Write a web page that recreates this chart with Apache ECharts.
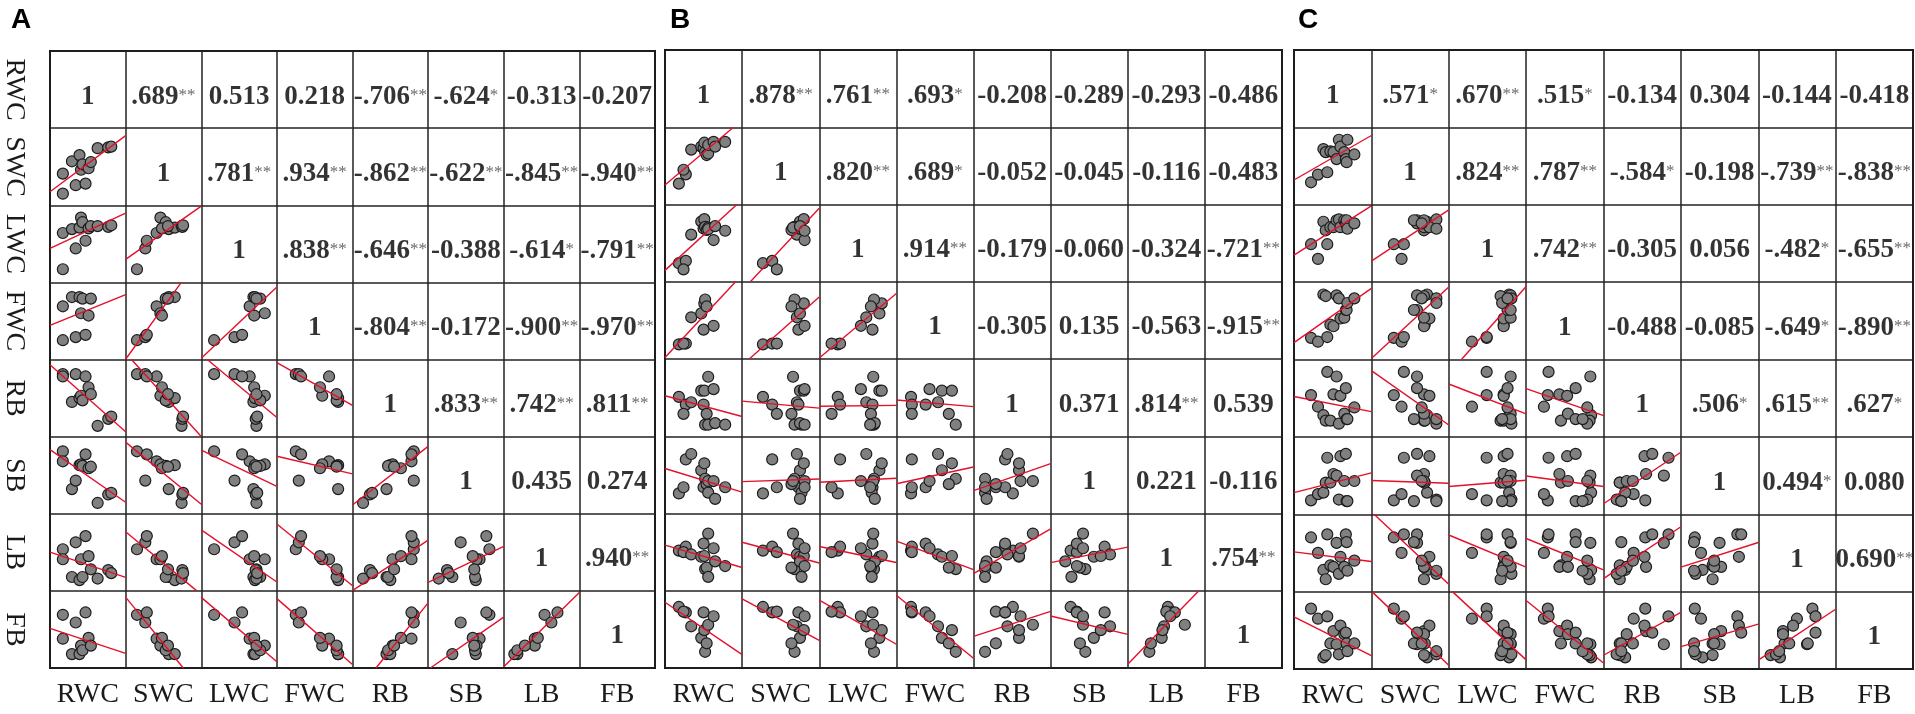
<!DOCTYPE html>
<html>
<head>
<meta charset="utf-8">
<script src="https://cdn.jsdelivr.net/npm/echarts@6/dist/echarts.min.js"></script>
<style>
html,body{margin:0;padding:0;background:#fff;}
#chart{width:1915px;height:714px;}
</style>
</head>
<body>
<div id="chart"></div>
<script>
// Variable names (columns / rows)
const VARS = ['RWC','SWC','LWC','FWC','RB','SB','LB','FB'];

// ---- Panel A samples (values as fraction of the cell range) ----
const RWC_A = [0.17,0.17,0.29,0.34,0.39,0.41,0.43,0.47,0.51,0.54,0.63,0.77,0.81];
const SWC_A = [0.15,0.41,0.57,0.26,0.65,0.46,0.53,0.28,0.48,0.56,0.74,0.75,0.76];
const LWC_A = [0.17,0.64,0.69,0.44,0.71,0.84,0.78,0.54,0.70,0.73,0.73,0.72,0.74];
const FWC_A = [0.25,0.69,0.81,0.29,0.81,0.60,0.79,0.32,0.57,0.79,null,null,null];
const RB_A  = [0.81,0.78,0.45,0.81,0.50,0.53,0.47,0.78,0.64,0.55,0.14,0.23,0.26];
const SB_A  = [0.81,0.68,0.32,0.43,0.63,0.64,0.62,0.77,0.59,0.61,0.14,0.25,0.27];
const LB_A  = [0.54,0.41,0.18,0.63,0.14,0.41,0.18,0.71,0.45,0.28,0.16,0.27,0.23];
const FB_A  = [0.69,0.38,0.18,0.59,0.18,0.29,0.23,0.72,0.39,0.29,null,null,null];

// ---- Panel B samples ----
const RWC_B = [0.18,0.27,0.24,0.34,0.47,0.50,0.51,0.52,0.54,0.56,0.56,0.63,0.65,0.78];
const SWC_B = [0.27,0.39,0.45,0.71,0.75,0.73,0.80,0.68,0.64,0.66,0.77,0.81,0.75,0.81];
const LWC_B = [0.24,0.27,0.16,0.61,0.78,0.69,0.81,0.71,0.67,0.70,0.68,0.54,0.72,0.66];
const FWC_B = [0.19,0.20,0.20,0.54,0.59,0.38,0.72,0.77,0.68,null,null,0.43,null,null];
const RB_B  = [0.51,0.41,0.29,0.44,0.59,0.41,0.59,0.15,0.29,0.77,0.15,0.61,0.17,0.15];
const SB_B  = [0.26,0.70,0.34,0.77,0.56,0.34,0.65,0.45,0.38,0.42,0.27,0.42,0.19,0.34];
const LB_B  = [0.52,0.57,0.50,0.47,0.44,0.61,0.45,0.28,0.30,0.74,0.18,0.55,0.38,0.32];
const FB_B  = [0.79,0.72,0.73,0.54,0.39,0.72,0.49,0.21,0.32,0.56,null,0.67,null,null];

// ---- Panel C samples ----
const RWC_C = [0.22,0.31,0.43,0.38,0.41,0.47,0.51,0.55,0.58,0.60,0.65,0.67,0.68,0.69,0.78];
const SWC_C = [0.29,0.39,0.42,0.72,0.68,0.69,0.68,0.59,0.84,0.75,0.68,0.59,0.55,0.84,0.65];
const LWC_C = [0.49,0.30,0.49,0.78,0.67,0.71,0.71,0.80,0.81,0.71,0.80,0.76,0.80,0.69,0.76];
const FWC_C = [0.28,0.23,0.29,0.84,0.82,0.45,0.43,0.83,0.79,0.53,0.54,0.64,0.64,0.73,0.79];
const RB_C  = [0.54,0.39,0.84,0.28,0.21,0.21,0.55,0.78,0.17,0.53,0.30,0.63,0.23,0.23,0.38];
const SB_C  = [0.18,0.26,0.73,0.28,0.41,0.41,0.52,0.50,0.19,0.75,0.43,0.78,0.17,0.17,0.43];
const LB_C  = [0.70,0.50,0.74,0.28,0.16,0.34,0.32,0.63,0.23,0.45,0.32,0.74,0.64,0.27,0.40];
const FB_C  = [0.78,0.65,0.68,0.15,0.18,0.33,0.49,0.32,0.19,0.56,0.45,0.47,0.33,0.23,0.33];

// ---- Correlation labels (upper triangle, row by row) ----
const CORR_A = [
  ['1','.689**','0.513','0.218','-.706**','-.624*','-0.313','-0.207'],
  ['1','.781**','.934**','-.862**','-.622**','-.845**','-.940**'],
  ['1','.838**','-.646**','-0.388','-.614*','-.791**'],
  ['1','-.804**','-0.172','-.900**','-.970**'],
  ['1','.833**','.742**','.811**'],
  ['1','0.435','0.274'],
  ['1','.940**'],
  ['1']
];
const CORR_B = [
  ['1','.878**','.761**','.693*','-0.208','-0.289','-0.293','-0.486'],
  ['1','.820**','.689*','-0.052','-0.045','-0.116','-0.483'],
  ['1','.914**','-0.179','-0.060','-0.324','-.721**'],
  ['1','-0.305','0.135','-0.563','-.915**'],
  ['1','0.371','.814**','0.539'],
  ['1','0.221','-0.116'],
  ['1','.754**'],
  ['1']
];
const CORR_C = [
  ['1','.571*','.670**','.515*','-0.134','0.304','-0.144','-0.418'],
  ['1','.824**','.787**','-.584*','-0.198','-.739**','-.838**'],
  ['1','.742**','-0.305','0.056','-.482*','-.655**'],
  ['1','-0.488','-0.085','-.649*','-.890**'],
  ['1','.506*','.615**','.627*'],
  ['1','0.494*','0.080'],
  ['1','0.690**'],
  ['1']
];

const panels = [
  { tag:'A', box:{left:37, top:51, width:618, height:617}, tagLeft:6,
    vals:[RWC_A,SWC_A,LWC_A,FWC_A,RB_A,SB_A,LB_A,FB_A], corr:CORR_A, rowLabels:true },
  { tag:'B', box:{left:665, top:50, width:617, height:618}, tagLeft:665,
    vals:[RWC_B,SWC_B,LWC_B,FWC_B,RB_B,SB_B,LB_B,FB_B], corr:CORR_B, rowLabels:false },
  { tag:'C', box:{left:1294, top:50, width:619, height:619}, tagLeft:1293,
    vals:[RWC_C,SWC_C,LWC_C,FWC_C,RB_C,SB_C,LB_C,FB_C], corr:CORR_C, rowLabels:false }
];

const N = VARS.length;
const SERIF = '"Liberation Serif","Times New Roman",serif';

function fitLine(xs, ys) {
  const px = [], py = [];
  for (let k = 0; k < xs.length; k++) {
    if (xs[k] != null && ys[k] != null) { px.push(xs[k]); py.push(ys[k]); }
  }
  const n = px.length;
  const mx = px.reduce((s,v)=>s+v,0)/n, my = py.reduce((s,v)=>s+v,0)/n;
  let sxy = 0, sxx = 0;
  for (let k = 0; k < n; k++) { sxy += (px[k]-mx)*(py[k]-my); sxx += (px[k]-mx)*(px[k]-mx); }
  const b = sxx ? sxy/sxx : 0;
  return { a: my - b*mx, b: b };
}
function clipUnit(a, b) {
  let x0 = 0, x1 = 1;
  if (b !== 0) {
    const xa = (0 - a)/b, xb = (1 - a)/b;
    x0 = Math.max(0, Math.min(xa, xb));
    x1 = Math.min(1, Math.max(xa, xb));
  } else if (a < 0 || a > 1) return null;
  if (x1 <= x0) return null;
  return [[x0, a + b*x0], [x1, a + b*x1]];
}

const grids = [], xAxes = [], yAxes = [], series = [], titles = [];

panels.forEach((p, pi) => {
  grids.push(Object.assign({ show:true, borderColor:'#111', borderWidth:2, backgroundColor:'#fff' }, p.box));
  titles.push({ text:p.tag, left:p.tagLeft, top:1,
    textStyle:{ fontFamily:'"Liberation Sans",Arial,sans-serif', fontWeight:'bold', fontSize:28, color:'#000' } });

  const xv = xAxes.length;
  xAxes.push({ type:'value', gridIndex:pi, min:0, max:N, interval:1,
    axisLine:{show:false}, axisTick:{show:false}, axisLabel:{show:false},
    splitLine:{show:true, lineStyle:{color:'#222', width:1.5}} });
  xAxes.push({ type:'category', gridIndex:pi, position:'bottom', data:VARS,
    axisLine:{show:false}, axisTick:{show:false}, splitLine:{show:false},
    axisLabel:{ interval:0, fontFamily:SERIF, fontSize:28, color:'#1a1a1a', margin:13 } });
  const yv = yAxes.length;
  yAxes.push({ type:'value', gridIndex:pi, min:0, max:N, interval:1,
    axisLine:{show:false}, axisTick:{show:false}, axisLabel:{show:false},
    splitLine:{show:true, lineStyle:{color:'#222', width:1.5}} });
  if (p.rowLabels) {
    yAxes.push({ type:'category', gridIndex:pi, position:'left', inverse:true, data:VARS,
      axisLine:{show:false}, axisTick:{show:false}, splitLine:{show:false},
      axisLabel:{ interval:0, fontFamily:SERIF, fontSize:28, color:'#1a1a1a', rotate:-90, margin:22 } });
  }

  // correlation text cells
  const txt = [];
  p.corr.forEach((row, i) => {
    row.forEach((s, m) => {
      const j = i + m;
      txt.push({ value:[j + 0.5, N - 1 - i + 0.5], name:s });
    });
  });
  series.push({
    type:'scatter', xAxisIndex:xv, yAxisIndex:yv, data:txt, symbolSize:1,
    itemStyle:{ color:'rgba(0,0,0,0)' }, silent:true, z:4,
    label:{ show:true, position:'inside', offset:[0,7],
      formatter: (d) => {
        const m = /^(.*?)(\**)$/.exec(d.name);
        return '{v|' + m[1] + '}' + (m[2] ? '{s|' + m[2] + '}' : '');
      },
      rich:{
        v:{ fontFamily:SERIF, fontWeight:'bold', fontSize:27, color:'#000', lineHeight:29 },
        s:{ fontFamily:SERIF, fontSize:17, color:'#444', lineHeight:29, padding:[0,0,3,0] }
      }
    }
  });

  // scatter points and fitted lines in lower triangle
  const pts = [];
  for (let i = 1; i < N; i++) {
    for (let j = 0; j < i; j++) {
      const xs = p.vals[j], ys = p.vals[i];
      for (let k = 0; k < xs.length; k++) {
        if (xs[k] == null || ys[k] == null) continue;
        pts.push([j + xs[k], N - 1 - i + ys[k]]);
      }
      const f = fitLine(xs, ys);
      const seg = clipUnit(f.a, f.b);
      if (seg) {
        series.push({ type:'line', xAxisIndex:xv, yAxisIndex:yv, symbol:'none', silent:true, z:3,
          data: seg.map(q => [j + q[0], N - 1 - i + q[1]]),
          lineStyle:{ color:'#e4102a', width:1.4 } });
      }
    }
  }
  series.push({ type:'scatter', xAxisIndex:xv, yAxisIndex:yv, data:pts, symbol:'circle', symbolSize:11,
    silent:true, z:2, itemStyle:{ color:'#808080', borderColor:'#1c1c1c', borderWidth:1.2, opacity:1 } });
});

const chart = echarts.init(document.getElementById('chart'));
chart.setOption({
  animation:false,
  backgroundColor:'#fff',
  title:titles,
  grid:grids,
  xAxis:xAxes,
  yAxis:yAxes,
  series:series
});
</script>
</body>
</html>
